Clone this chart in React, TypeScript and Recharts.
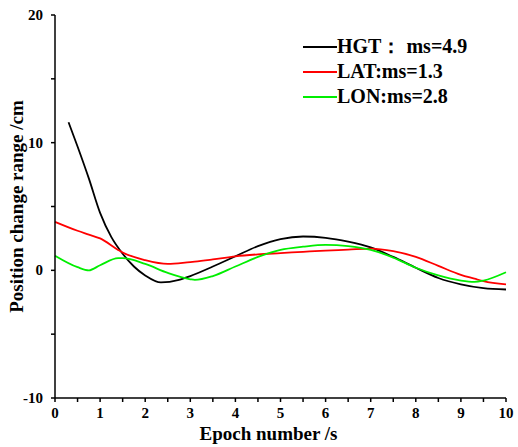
import { LineChart, Line, XAxis, YAxis } from "recharts"

// epochs (s) and position change (cm)
const hgtEpochs = [0.3, 0.5, 0.75, 1, 1.25, 1.5, 1.75, 2, 2.35, 2.75, 3, 3.5, 4, 4.5, 5, 5.5, 6, 6.5, 7, 7.5, 8, 8.5, 9, 9.5, 10]
const hgtValues = [11.6, 9.7, 7.2, 4.5, 2.6, 1.3, 0.3, -0.4, -0.95, -0.75, -0.45, 0.3, 1.1, 1.9, 2.45, 2.65, 2.55, 2.25, 1.8, 1.05, 0.2, -0.6, -1.1, -1.4, -1.5]

const epochs = [0, 0.5, 0.75, 1, 1.4, 1.5, 2, 2.5, 3, 3.1, 3.5, 4, 4.5, 5, 5.5, 6, 6.5, 7, 7.5, 8, 8.5, 9, 9.3, 9.5, 10]
const latValues = [3.8, 3.1, 2.8, 2.5, 1.6, 1.4, 0.8, 0.5, 0.65, 0.68, 0.85, 1.1, 1.25, 1.35, 1.45, 1.55, 1.62, 1.7, 1.5, 1.05, 0.35, -0.35, -0.65, -0.85, -1.1]
const lonValues = [1.15, 0.25, 0.0, 0.4, 0.95, 0.95, 0.5, -0.2, -0.7, -0.75, -0.45, 0.3, 1.05, 1.6, 1.85, 2.0, 1.9, 1.6, 1.0, 0.2, -0.4, -0.8, -0.9, -0.8, -0.15]

const xTicks = [0, 0.5, 1, 1.5, 2, 2.5, 3, 3.5, 4, 4.5, 5, 5.5, 6, 6.5, 7, 7.5, 8, 8.5, 9, 9.5, 10]
const yTicks = [-10, -5, 0, 5, 10, 15, 20]

const legendItems = [
  { name: "HGT\uff1a ms=4.9", color: "#000000" },
  { name: "LAT:ms=1.3", color: "#ff0000" },
  { name: "LON:ms=2.8", color: "#00ee00" },
]

const hgtData = hgtEpochs.map((t, i) => ({ t, v: hgtValues[i] }))
const latData = epochs.map((t, i) => ({ t, v: latValues[i] }))
const lonData = epochs.map((t, i) => ({ t, v: lonValues[i] }))

const FONT = "'Liberation Serif', 'Times New Roman', serif"

function XTick({ x, y, payload }: any) {
  if (!Number.isInteger(payload.value)) return null
  return (
    <text x={x} y={y} dy={12} textAnchor="middle" fontFamily={FONT} fontWeight="bold" fontSize={15} fill="#000">
      {payload.value}
    </text>
  )
}

function YTick({ x, y, payload }: any) {
  if (payload.value % 10 !== 0) return null
  return (
    <text x={x} y={y} dy={5} textAnchor="end" fontFamily={FONT} fontWeight="bold" fontSize={15} fill="#000">
      {payload.value}
    </text>
  )
}

function YLabel({ viewBox }: any) {
  const cx = 23
  const cy = viewBox.y + viewBox.height / 2
  return (
    <text x={cx} y={cy} transform={`rotate(-90 ${cx} ${cy})`} textAnchor="middle" fontFamily={FONT} fontWeight="bold" fontSize={19} fill="#000">
      Position change range /cm
    </text>
  )
}

function XLabel({ viewBox }: any) {
  const cx = viewBox.x + viewBox.width / 2 - 12
  return (
    <text x={cx} y={440} textAnchor="middle" fontFamily={FONT} fontWeight="bold" fontSize={19} fill="#000">
      Epoch number /s
    </text>
  )
}

function LegendBox() {
  return (
    <div style={{ position: "absolute", left: 303, top: 34, fontFamily: FONT, fontWeight: "bold", fontSize: 20, color: "#000" }}>
      {legendItems.map((item) => (
        <div key={item.name} style={{ display: "flex", alignItems: "center", height: 25 }}>
          <svg width={34} height={4} style={{ display: "block" }}>
            <line x1={0} y1={2} x2={34} y2={2} stroke={item.color} strokeWidth={2} />
          </svg>
          <span style={{ whiteSpace: "pre" }}>{item.name}</span>
        </div>
      ))}
    </div>
  )
}

export default function App() {
  return (
    <div style={{ position: "absolute", left: 0, top: 0, width: 518, height: 447, background: "#fff" }}>
      <LineChart width={518} height={447} margin={{ top: 15, right: 12, left: 0, bottom: 0 }}>
        <XAxis
          dataKey="t"
          type="number"
          domain={[0, 10]}
          ticks={xTicks}
          tick={<XTick />}
          tickSize={4}
          tickMargin={4}
          height={49}
          interval={0}
          axisLine={{ stroke: "#000", strokeWidth: 1.5 }}
          tickLine={{ stroke: "#000", strokeWidth: 1.5 }}
          allowDuplicatedCategory={false}
          label={<XLabel />}
        />
        <XAxis xAxisId="top" orientation="top" type="number" domain={[0, 10]} height={0} tick={false} tickLine={false} axisLine={{ stroke: "#000", strokeWidth: 1.5 }} />
        <YAxis
          type="number"
          domain={[-10, 20]}
          ticks={yTicks}
          tick={<YTick />}
          tickSize={4}
          tickMargin={8}
          width={55}
          interval={0}
          axisLine={{ stroke: "#000", strokeWidth: 1.5 }}
          tickLine={{ stroke: "#000", strokeWidth: 1.5 }}
          label={<YLabel />}
        />
        <YAxis yAxisId="right" orientation="right" type="number" domain={[-10, 20]} width={0} tick={false} tickLine={false} axisLine={{ stroke: "#000", strokeWidth: 1.5 }} />
        <Line data={hgtData} dataKey="v" name="HGT" type="monotone" stroke="#000000" strokeWidth={1.8} dot={false} isAnimationActive={false} />
        <Line data={latData} dataKey="v" name="LAT" type="monotone" stroke="#ff0000" strokeWidth={1.8} dot={false} isAnimationActive={false} />
        <Line data={lonData} dataKey="v" name="LON" type="monotone" stroke="#00ee00" strokeWidth={1.8} dot={false} isAnimationActive={false} />
      </LineChart>
      <LegendBox />
    </div>
  )
}
